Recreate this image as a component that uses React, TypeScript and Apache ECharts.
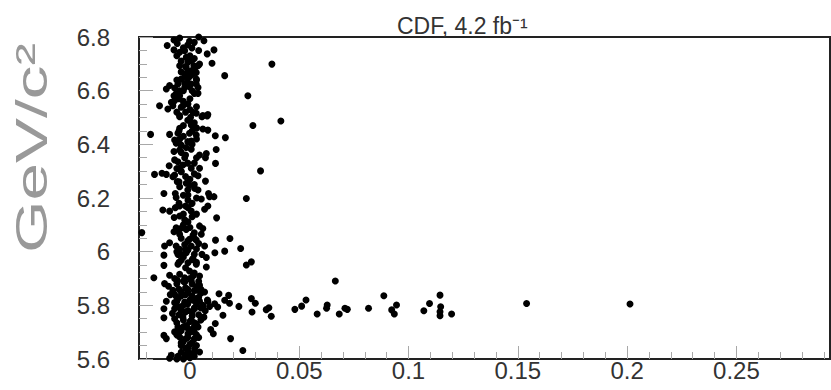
import React, { useEffect, useRef } from "react";
import * as echarts from "echarts";

const titleText = "CDF, 4.2 fb⁻¹";
const yAxisTitle = "GeV/c²";

const X_MIN = -0.0233;
const X_MAX = 0.2928;
const Y_MIN = 5.6;
const Y_MAX = 6.8;
const Y_STEP = 0.2;

const xMajorTicks = [0, 0.05, 0.1, 0.15, 0.2, 0.25];
const xMinorTicks = [
  -0.02, -0.01, 0.01, 0.02, 0.03, 0.04, 0.06, 0.07, 0.08, 0.09, 0.11, 0.12,
  0.13, 0.14, 0.16, 0.17, 0.18, 0.19, 0.21, 0.22, 0.23, 0.24, 0.26, 0.27,
  0.28, 0.29,
];

const upperBand: number[][] = [
  [-0.0073, 6.789], [-0.0047, 6.796], [-0.0058, 6.776], [-0.0002, 6.784], [0.0064, 6.786],
  [-0.0104, 6.768], [-0.0073, 6.752], [-0.0047, 6.743], [-0.0024, 6.749], [0.0009, 6.759],
  [0.011, 6.752], [0.0079, 6.737], [-0.0017, 6.724], [-0.0002, 6.718], [-0.0009, 6.706],
  [0.0009, 6.712], [-0.0047, 6.693], [-0.0017, 6.687], [0.0018, 6.693], [0.0037, 6.693],
  [0.0044, 6.699], [0.0101, 6.702], [0.0375, 6.699], [-0.0009, 6.672], [0.0009, 6.675],
  [0.0021, 6.681], [-0.0024, 6.662], [0.0029, 6.668], [0.0159, 6.656], [-0.004, 6.643],
  [-0.0017, 6.65], [-0.0002, 6.652], [0.0029, 6.643], [-0.0055, 6.625], [-0.0024, 6.627],
  [0.0006, 6.625], [0.0029, 6.625], [-0.0093, 6.619], [-0.0108, 6.606], [-0.007, 6.61],
  [-0.0047, 6.6], [-0.0024, 6.612], [-0.0002, 6.615], [0.0037, 6.612], [-0.0063, 6.588],
  [-0.0047, 6.581], [-0.0073, 6.581], [0.0037, 6.59], [0.0265, 6.581], [-0.0085, 6.557],
  [-0.007, 6.563], [-0.0032, 6.544], [-0.0009, 6.55], [-0.0139, 6.544], [-0.0101, 6.532],
  [-0.0078, 6.544], [-0.004, 6.538], [-0.0047, 6.507], [0.0014, 6.519], [0.0029, 6.516],
  [0.0059, 6.507], [0.0082, 6.511], [0.0003, 6.501], [0.0416, 6.487],
];

const middleBandHigh: number[][] = [
  [-0.0047, 6.503], [-0.0002, 6.491], [0.0055, 6.503], [0.0079, 6.506], [0.0288, 6.47],
  [0.0006, 6.472], [-0.0047, 6.46], [0.0029, 6.462], [0.0059, 6.457], [0.0082, 6.453],
  [-0.018, 6.437], [-0.0093, 6.437], [-0.0055, 6.441], [-0.0002, 6.441], [0.0029, 6.435],
  [0.0116, 6.432], [0.0162, 6.425], [-0.007, 6.416], [-0.0047, 6.419], [0.0006, 6.412],
  [-0.0063, 6.404], [-0.004, 6.397], [-0.0017, 6.388], [0.0006, 6.382], [0.012, 6.381],
  [-0.0073, 6.373], [-0.0047, 6.379], [0.0044, 6.36], [0.0075, 6.366], [0.0071, 6.35],
  [-0.0024, 6.35], [-0.007, 6.342], [-0.0055, 6.335], [-0.0032, 6.323], [0.0117, 6.329],
  [-0.0095, 6.32], [-0.0047, 6.311], [0.0006, 6.311], [0.0044, 6.311], [0.0323, 6.301],
  [-0.0162, 6.288], [-0.0128, 6.292], [-0.0108, 6.288], [-0.007, 6.286], [-0.004, 6.298],
  [0.0037, 6.283], [-0.0078, 6.279], [-0.0058, 6.261], [-0.0017, 6.255], [-0.0002, 6.248],
  [0.0071, 6.263], [-0.0047, 6.242], [0.0021, 6.236], [0.0037, 6.23], [-0.0119, 6.217],
  [-0.0067, 6.217], [-0.0009, 6.211], [0.0085, 6.217], [0.009, 6.205], [0.011, 6.205],
  [-0.0063, 6.202], [0.0258, 6.198], [0.0052, 6.196],
];

const middleBandLow: number[][] = [
  [-0.0009, 6.192], [-0.0124, 6.155], [-0.0093, 6.151], [-0.0067, 6.164], [-0.0047, 6.17],
  [-0.0009, 6.164], [0.0006, 6.151], [0.0067, 6.158], [0.0082, 6.17], [-0.0072, 6.127],
  [-0.0047, 6.133], [-0.0024, 6.119], [-0.0009, 6.111], [0.0122, 6.126], [-0.0063, 6.089],
  [-0.0043, 6.086], [-0.0017, 6.083], [0.0044, 6.096], [0.0059, 6.086], [-0.022, 6.071],
  [-0.0073, 6.074], [-0.0047, 6.065], [0.0014, 6.061], [0.0052, 6.065], [-0.0002, 6.046],
  [0.0029, 6.043], [0.0117, 6.043], [0.0183, 6.049], [-0.0093, 6.033], [-0.0116, 6.021],
  [-0.0063, 6.021], [-0.0024, 6.027], [0.0006, 6.021], [0.0067, 6.021], [-0.0047, 6.009],
  [-0.0009, 6.006], [0.0159, 6.002], [0.0232, 6.012], [-0.0119, 5.987], [-0.0055, 5.99],
  [-0.0017, 5.996], [0.0055, 5.99], [0.0114, 5.996], [0.0075, 5.978], [-0.004, 5.968],
  [0.0014, 5.974], [-0.0119, 5.949], [-0.0055, 5.953], [-0.0009, 5.959], [0.0029, 5.953],
  [0.0075, 5.943], [0.0258, 5.95], [0.0281, 5.962], [-0.0093, 5.912], [-0.0047, 5.916],
  [-0.0002, 5.928], [0.0044, 5.909], [-0.0165, 5.903], [-0.007, 5.9], [-0.0024, 5.903],
  [0.0014, 5.909],
];

const lowerBand: number[][] = [
  [-0.0116, 5.881], [-0.0098, 5.871], [-0.0058, 5.893], [-0.0024, 5.887], [0.0006, 5.893],
  [0.0044, 5.875], [-0.0078, 5.856], [-0.004, 5.85], [-0.0009, 5.846], [0.0032, 5.856],
  [0.0067, 5.85], [0.0133, 5.843], [0.0177, 5.837], [-0.0108, 5.815], [-0.0055, 5.825],
  [-0.0024, 5.812], [0.0014, 5.819], [0.0044, 5.815], [0.0082, 5.815], [0.0113, 5.806],
  [0.0159, 5.819], [0.0181, 5.808], [0.0224, 5.796], [0.0281, 5.825], [0.0299, 5.808],
  [0.0284, 5.775], [0.0349, 5.784], [0.0361, 5.791], [0.0372, 5.759], [-0.0119, 5.787],
  [-0.0119, 5.754], [-0.007, 5.787], [-0.004, 5.794], [-0.0009, 5.781], [0.0021, 5.787],
  [0.0059, 5.794], [0.009, 5.796], [0.0127, 5.794], [0.0151, 5.763], [-0.007, 5.75],
  [-0.0032, 5.756], [0.0006, 5.744], [0.0064, 5.756], [-0.0055, 5.719], [-0.0017, 5.725],
  [0.0037, 5.719], [0.0116, 5.732], [0.0095, 5.71], [0.0107, 5.694], [-0.0119, 5.688],
  [-0.007, 5.701], [-0.0047, 5.682], [-0.0009, 5.694], [0.0014, 5.707], [0.0186, 5.676],
  [-0.0108, 5.676], [-0.0032, 5.663], [-0.0009, 5.644], [0.0021, 5.638], [0.0044, 5.626],
  [0.0242, 5.632], [-0.0085, 5.614], [-0.0055, 5.61], [-0.0024, 5.607], [-0.0093, 5.603],
  [-0.0017, 5.617],
];

const denseCore: number[][] = [
  [-0.003, 5.8], [0.0, 5.82], [0.002, 5.79], [-0.002, 5.84], [0.004, 5.83], [-0.004, 5.78],
  [0.001, 5.76], [-0.001, 5.86], [0.003, 5.87], [-0.006, 5.83], [0.006, 5.8], [0.0, 5.74],
  [-0.003, 5.72], [0.002, 5.7], [-0.001, 5.68], [0.001, 5.66], [-0.002, 5.64], [0.0, 5.62],
  [-0.004, 5.66], [0.003, 5.73], [-0.005, 5.7], [0.004, 5.68], [0.002, 5.61], [-0.003, 5.6],
  [0.0, 5.9], [0.002, 5.92], [-0.002, 5.94], [0.001, 5.97], [-0.004, 5.99], [0.003, 6.01],
  [-0.001, 6.04], [0.002, 6.07], [-0.003, 6.1], [0.001, 6.13], [-0.002, 6.17], [0.003, 6.2],
  [-0.001, 6.23], [0.0, 6.27], [-0.004, 6.3], [0.002, 6.33], [-0.002, 6.36], [0.001, 6.4],
  [-0.003, 6.43], [0.003, 6.46], [-0.001, 6.49], [0.0, 6.53], [-0.003, 6.56], [0.002, 6.59],
  [-0.001, 6.63], [0.001, 6.66], [-0.002, 6.69], [0.0, 6.73], [-0.003, 6.76], [0.002, 6.78],
  [-0.007, 5.81], [0.008, 5.82], [-0.009, 5.84], [0.005, 5.86], [0.007, 5.78], [-0.008, 5.77],
];

const denseCoreLower: number[][] = [
  [-0.006, 5.88], [-0.003, 5.89], [0.001, 5.88], [0.004, 5.89], [-0.005, 5.86], [-0.002, 5.865],
  [0.002, 5.855], [0.005, 5.845], [-0.007, 5.84], [-0.004, 5.835], [0.001, 5.835], [0.003, 5.825],
  [-0.006, 5.815], [-0.001, 5.805], [0.003, 5.805], [0.005, 5.79], [-0.005, 5.795], [-0.002, 5.775],
  [0.001, 5.775], [0.004, 5.765], [-0.005, 5.765], [-0.003, 5.745], [0.002, 5.735], [0.005, 5.745],
  [-0.006, 5.735], [-0.001, 5.715], [0.002, 5.72], [-0.004, 5.705], [0.0, 5.7], [0.003, 5.69],
  [-0.006, 5.69], [-0.002, 5.675], [0.002, 5.675], [-0.004, 5.65], [0.0, 5.655], [0.003, 5.65],
  [-0.001, 5.63], [0.002, 5.625], [-0.004, 5.625], [0.0, 5.605], [-0.006, 5.6], [0.001, 5.595],
];

const denseCoreUpper: number[][] = [
  [-0.005, 5.96], [0.003, 5.96], [-0.003, 5.98], [0.002, 5.99], [-0.006, 6.0], [-0.002, 6.01],
  [0.004, 6.03], [-0.004, 6.05], [0.002, 6.05], [-0.006, 6.08], [0.0, 6.09], [-0.003, 6.14],
  [0.003, 6.14], [-0.005, 6.18], [0.001, 6.18], [-0.003, 6.21], [0.002, 6.25], [-0.005, 6.26],
  [-0.002, 6.28], [0.002, 6.29], [-0.006, 6.31], [-0.001, 6.33], [0.003, 6.35], [-0.004, 6.37],
  [-0.001, 6.41], [0.003, 6.42], [-0.005, 6.45], [0.001, 6.45], [-0.003, 6.47], [0.002, 6.48],
  [-0.006, 6.52], [-0.002, 6.52], [0.003, 6.54], [-0.005, 6.57], [0.0, 6.57], [-0.003, 6.6],
  [0.001, 6.6], [-0.006, 6.64], [0.003, 6.64], [-0.004, 6.67], [-0.004, 6.71], [0.002, 6.72],
  [-0.006, 6.73], [0.004, 6.75], [-0.001, 6.77], [0.004, 6.8],
];

const tailPoints: number[][] = [
  [0.048, 5.785], [0.0511, 5.797], [0.0531, 5.82], [0.0582, 5.768], [0.0625, 5.789],
  [0.0628, 5.801], [0.0665, 5.891], [0.0683, 5.768], [0.0709, 5.789], [0.072, 5.785],
  [0.0817, 5.789], [0.0887, 5.836], [0.0923, 5.783], [0.0935, 5.768], [0.0945, 5.801],
  [0.107, 5.78], [0.1096, 5.807], [0.1144, 5.838], [0.1147, 5.795], [0.1144, 5.776],
  [0.1144, 5.761], [0.1197, 5.768], [0.154, 5.807], [0.2013, 5.805],
];

const FONT = "'Liberation Sans', Arial, Helvetica, sans-serif";
const TICK_COLOR = "#a8a8a8";
const LABEL_COLOR = "#333";

export default function App() {
  const ref = useRef<HTMLDivElement>(null);

  useEffect(() => {
    if (!ref.current) return;
    const chart = echarts.init(ref.current, undefined, { renderer: "svg" });
    const allPoints = [
      ...upperBand,
      ...middleBandHigh,
      ...middleBandLow,
      ...lowerBand,
      ...denseCore,
      ...denseCoreLower,
      ...denseCoreUpper,
      ...tailPoints,
    ];
    chart.setOption({
      animation: false,
      backgroundColor: "#fff",
      title: {
        text: titleText,
        left: 392,
        top: 9,
        textStyle: {
          fontFamily: FONT,
          fontSize: 23,
          fontWeight: "normal",
          color: LABEL_COLOR,
        },
      },
      grid: {
        left: 139,
        right: 1,
        top: 37,
        bottom: 31,
        show: true,
        borderColor: "#222",
        borderWidth: 2,
      },
      xAxis: [
        {
          type: "value",
          min: X_MIN,
          max: X_MAX,
          axisLine: { show: false, onZero: false },
          splitLine: { show: false },
          axisTick: {
            show: true,
            inside: true,
            length: 13,
            customValues: xMajorTicks,
            lineStyle: { color: TICK_COLOR, width: 1 },
          },
          axisLabel: {
            customValues: xMajorTicks,
            margin: -1,
            fontFamily: FONT,
            fontSize: 24,
            color: LABEL_COLOR,
          },
        },
        {
          type: "value",
          min: X_MIN,
          max: X_MAX,
          position: "bottom",
          axisLine: { show: false, onZero: false },
          splitLine: { show: false },
          axisLabel: { show: false },
          axisTick: {
            show: true,
            inside: true,
            length: 7,
            customValues: xMinorTicks,
            lineStyle: { color: TICK_COLOR, width: 1 },
          },
        },
      ],
      yAxis: {
        type: "value",
        min: Y_MIN,
        max: Y_MAX,
        interval: Y_STEP,
        position: "left",
        axisLine: { show: false, onZero: false },
        splitLine: { show: false },
        axisTick: {
          show: true,
          inside: true,
          length: 14,
          lineStyle: { color: TICK_COLOR, width: 1 },
        },
        minorTick: {
          show: true,
          splitNumber: 4,
          length: 8,
          lineStyle: { color: TICK_COLOR, width: 1 },
        },
        minorSplitLine: { show: false },
        axisLabel: {
          margin: 29,
          fontFamily: FONT,
          fontSize: 24,
          color: LABEL_COLOR,
        },
      },
      graphic: [
        {
          type: "text",
          x: 31,
          y: 148,
          rotation: Math.PI / 2,
          scaleX: 1.5,
          style: {
            text: yAxisTitle,
            fontFamily: FONT,
            fontSize: 45,
            fill: "#999",
            align: "center",
            verticalAlign: "middle",
          },
        },
      ],
      series: [
        {
          type: "scatter",
          xAxisIndex: 0,
          yAxisIndex: 0,
          data: allPoints,
          symbol: "circle",
          symbolSize: 7,
          clip: true,
          itemStyle: { color: "#000", opacity: 1 },
        },
      ],
    });
    return () => chart.dispose();
  }, []);

  return (
    <div
      ref={ref}
      style={{ position: "fixed", left: 0, top: 0, width: 831, height: 390 }}
    />
  );
}
